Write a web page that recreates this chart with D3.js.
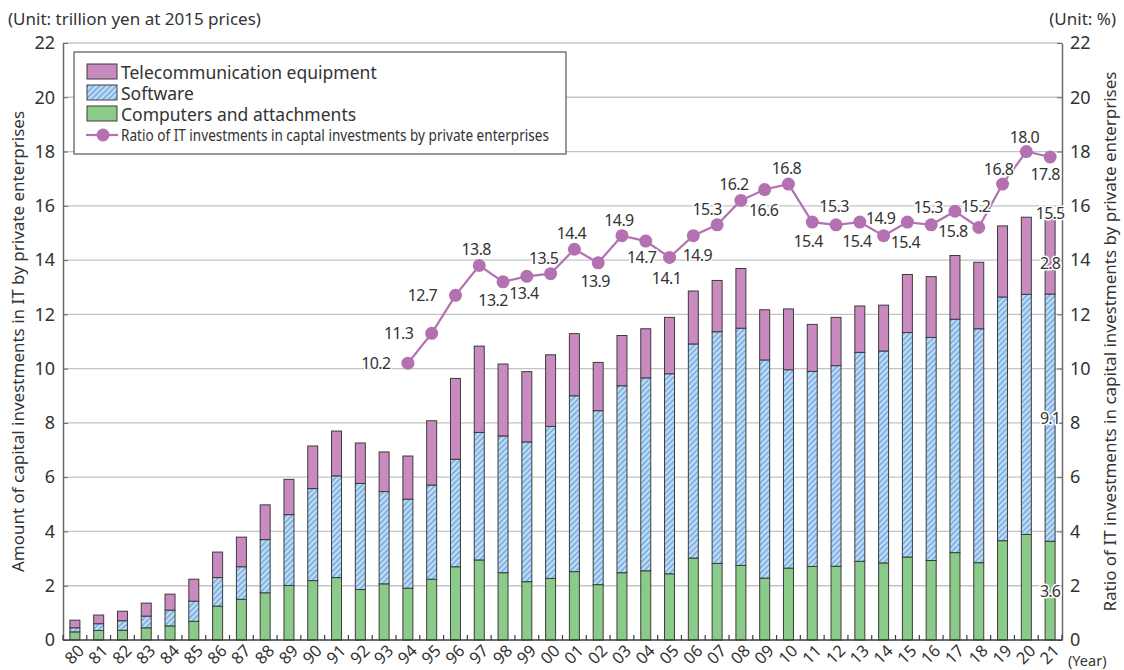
<!DOCTYPE html>
<html lang="en">
<head>
<meta charset="utf-8">
<script src="https://d3js.org/d3.v7.min.js"></script>
<style>
  body { margin: 0; background: #fff; }
  text { font-family: "Noto Sans", sans-serif; fill: #333; }
</style>
</head>
<body>
<script>
// Years (fiscal, 2-digit)
var years = ["80","81","82","83","84","85","86","87","88","89","90","91","92","93","94","95","96","97","98","99",
             "00","01","02","03","04","05","06","07","08","09","10","11","12","13","14","15","16","17","18","19","20","21"];

// trillion yen at 2015 prices
var computers = [0.30,0.35,0.36,0.45,0.52,0.69,1.25,1.50,1.74,2.01,2.19,2.30,1.86,2.07,1.91,2.24,2.70,2.95,2.48,2.15,
                 2.27,2.52,2.04,2.48,2.55,2.44,3.02,2.82,2.75,2.28,2.65,2.71,2.72,2.90,2.84,3.06,2.93,3.22,2.85,3.66,3.89,3.64];
var software  = [0.15,0.25,0.35,0.43,0.58,0.74,1.05,1.20,1.96,2.61,3.39,3.75,3.91,3.40,3.28,3.47,3.96,4.70,5.04,5.15,
                 5.60,6.48,6.41,6.89,7.11,7.37,7.89,8.54,8.74,8.04,7.31,7.19,7.39,7.70,7.81,8.27,8.22,8.60,8.62,8.98,8.85,9.11];
var telecom   = [0.28,0.32,0.35,0.48,0.59,0.81,0.94,1.09,1.28,1.30,1.57,1.65,1.49,1.46,1.59,2.37,2.98,3.18,2.65,2.59,
                 2.64,2.29,1.78,1.85,1.81,2.08,1.95,1.89,2.20,1.85,2.24,1.73,1.78,1.71,1.69,2.14,2.24,2.35,2.45,2.62,2.84,2.75];

// ratio of IT investments (%), from 94
var ratioYears = ["94","95","96","97","98","99","00","01","02","03","04","05","06","07","08","09","10","11","12","13","14","15","16","17","18","19","20","21"];
var ratio = [10.2,11.3,12.7,13.8,13.2,13.4,13.5,14.4,13.9,14.9,14.7,14.1,14.9,15.3,16.2,16.6,16.8,15.4,15.3,15.4,14.9,15.4,15.3,15.8,15.2,16.8,18.0,17.8];

var yTicks = [0,2,4,6,8,10,12,14,16,18,20,22];

// label offsets for the ratio line (styling only)
var ratioLabelOffset = [[-32,0],[-33,0],[-33,0],[-3,-17],[-10,18],[-3,17],[-7,-16],[-3,-16],[-3,18],[-3,-16],
                        [-4,16],[-3,21],[4,19],[-10,-16],[-7,-16],[-1,20],[-2,-16],[-4,19],[-2,-19],[-3,19],
                        [-3,-18],[-2,20],[-3,-18],[-2,20],[-3,-22],[-4,-15],[-2,-15],[-5,17]];

var w = 1124, h = 670;
var padL = 63, padR = 1062, padT = 43, padB = 640;

var svg = d3.select("body").append("svg").attr("width", w).attr("height", h);

var defs = svg.append("defs");
var pat = defs.append("pattern")
  .attr("id", "hatch").attr("patternUnits", "userSpaceOnUse")
  .attr("width", 4).attr("height", 4)
  .attr("patternTransform", "rotate(45)");
pat.append("rect").attr("width", 4).attr("height", 4).attr("fill", "#7fb4e6");
pat.append("line").attr("x1", 1).attr("y1", 0).attr("x2", 1).attr("y2", 4)
  .attr("stroke", "#fff").attr("stroke-width", 1.1);

var xScale = d3.scaleBand().domain(years).range([padL, padR]).paddingInner(0.58).paddingOuter(0.29);
var yScale = d3.scaleLinear().domain([0, 22]).range([padB, padT]);

// gridlines
svg.append("g").selectAll("line").data(yTicks.filter(function(d){ return d > 0; })).enter()
  .append("line")
  .attr("x1", padL).attr("x2", padR)
  .attr("y1", function(d){ return yScale(d); }).attr("y2", function(d){ return yScale(d); })
  .attr("stroke", "#c4c4c4").attr("stroke-width", 1.3);

// stacked bars
var rows = years.map(function(y, i){ return {year: y, computers: computers[i], software: software[i], telecom: telecom[i]}; });
var keys = ["computers", "software", "telecom"];
var fills = {computers: "#8acb8a", software: "url(#hatch)", telecom: "#c98bbf"};
var stacked = d3.stack().keys(keys)(rows);

svg.append("g").selectAll("g").data(stacked).enter()
  .append("g").attr("fill", function(d){ return fills[d.key]; })
  .selectAll("rect").data(function(d){ return d; }).enter()
  .append("rect")
  .attr("x", function(d){ return xScale(d.data.year); })
  .attr("width", xScale.bandwidth())
  .attr("y", function(d){ return yScale(d[1]); })
  .attr("height", function(d){ return yScale(d[0]) - yScale(d[1]); })
  .attr("stroke", "#3c3c3c").attr("stroke-width", 1);

// axes
var yAxisL = d3.axisLeft(yScale).tickValues(yTicks).tickSize(0).tickPadding(8);
var yAxisR = d3.axisRight(yScale).tickValues(yTicks).tickSize(0).tickPadding(8);

var gl = svg.append("g").attr("transform", "translate(" + padL + ",0)").call(yAxisL);
var gr = svg.append("g").attr("transform", "translate(" + padR + ",0)").call(yAxisR);
[gl, gr].forEach(function(g){
  g.select(".domain").attr("stroke", "#6a6a6a").attr("stroke-width", 1.5);
  g.selectAll("text").style("font-size", "18px").attr("fill", "#333");
});
gl.selectAll(".tick").append("line").attr("x2", 5).attr("stroke", "#6a6a6a");
gr.selectAll(".tick").append("line").attr("x2", -5).attr("stroke", "#6a6a6a");

// x axis
var step = xScale.step();
var boundaries = years.map(function(y){ return xScale(y) - (step - xScale.bandwidth()) / 2; });
boundaries.push(padR);
svg.append("line").attr("x1", padL).attr("x2", padR).attr("y1", padB).attr("y2", padB)
  .attr("stroke", "#3c3c3c").attr("stroke-width", 1.5);
svg.append("g").selectAll("line").data(boundaries).enter().append("line")
  .attr("x1", function(d){ return d; }).attr("x2", function(d){ return d; })
  .attr("y1", padB).attr("y2", padB - 5)
  .attr("stroke", "#3c3c3c").attr("stroke-width", 1.2);

svg.append("g").selectAll("text").data(years).enter().append("text")
  .attr("transform", function(d){ return "translate(" + (xScale(d) + xScale.bandwidth() / 2 - 1) + "," + 654 + ") rotate(-45)"; })
  .attr("text-anchor", "middle").attr("dominant-baseline", "central")
  .style("font-size", "16.5px").text(function(d){ return d; });

svg.append("text").attr("x", 1068).attr("y", 666).style("font-size", "14.5px").text("(Year)");

// unit labels and axis titles
svg.append("text").attr("x", 8).attr("y", 25).style("font-size", "17px").text("(Unit: trillion yen at 2015 prices)");
svg.append("text").attr("x", 1116).attr("y", 25).attr("text-anchor", "end").style("font-size", "17px").text("(Unit: %)");

svg.append("text").attr("transform", "translate(24," + ((padT + padB) / 2) + ") rotate(-90)")
  .attr("text-anchor", "middle").style("font-size", "17px")
  .text("Amount of capital investments in IT by private enterprises");
svg.append("text").attr("transform", "translate(1116," + ((padT + padB) / 2) + ") rotate(-90)")
  .attr("text-anchor", "middle").style("font-size", "17px")
  .text("Ratio of IT investments in capital investments by private enterprises");

// ratio line
var lineColor = "#b471b2";
var cx = function(y){ return xScale(y) + xScale.bandwidth() / 2; };
var line = d3.line()
  .x(function(d, i){ return cx(ratioYears[i]); })
  .y(function(d){ return yScale(d); });
svg.append("path").datum(ratio).attr("d", line)
  .attr("fill", "none").attr("stroke", lineColor).attr("stroke-width", 2.2);
svg.append("g").selectAll("circle").data(ratio).enter().append("circle")
  .attr("cx", function(d, i){ return cx(ratioYears[i]); })
  .attr("cy", function(d){ return yScale(d); })
  .attr("r", 6.5).attr("fill", lineColor);

svg.append("g").selectAll("text").data(ratio).enter().append("text")
  .attr("x", function(d, i){ return cx(ratioYears[i]) + ratioLabelOffset[i][0]; })
  .attr("y", function(d, i){ return yScale(d) + ratioLabelOffset[i][1]; })
  .attr("text-anchor", "middle").attr("dominant-baseline", "central")
  .style("font-size", "16px").style("letter-spacing", "-0.6px")
  .attr("stroke", "#fff").attr("stroke-width", 3).attr("paint-order", "stroke")
  .text(function(d){ return d.toFixed(1); });

// value labels on last bar
var last = rows[rows.length - 1];
var lx = cx(last.year);
var lastLabels = [
  {v: last.computers, y: (0 + last.computers) / 2},
  {v: last.software, y: last.computers + last.software / 2},
  {v: last.telecom, y: last.computers + last.software + last.telecom / 2 - 0.25},
  {v: last.computers + last.software + last.telecom, y: last.computers + last.software + last.telecom + 0.22}
];
svg.append("g").selectAll("text").data(lastLabels).enter().append("text")
  .attr("x", lx).attr("y", function(d){ return yScale(d.y); })
  .attr("text-anchor", "middle").attr("dominant-baseline", "central")
  .style("font-size", "16px").style("letter-spacing", "-0.8px")
  .attr("stroke", "#fff").attr("stroke-width", 3).attr("paint-order", "stroke")
  .text(function(d){ return d.v.toFixed(1); });

// legend
var lg = svg.append("g");
lg.append("rect").attr("x", 74).attr("y", 52).attr("width", 492).attr("height", 102)
  .attr("fill", "#fff").attr("stroke", "#555").attr("stroke-width", 1.2);
var legendItems = [
  {label: "Telecommunication equipment", fill: fills.telecom},
  {label: "Software", fill: fills.software},
  {label: "Computers and attachments", fill: fills.computers}
];
legendItems.forEach(function(d, i){
  var yy = 64 + i * 21;
  lg.append("rect").attr("x", 87).attr("y", yy).attr("width", 30).attr("height", 15)
    .attr("fill", d.fill).attr("stroke", "#3c3c3c").attr("stroke-width", 1);
  lg.append("text").attr("x", 121).attr("y", yy + 7.5).attr("dominant-baseline", "central")
    .style("font-size", "17.5px").text(d.label);
});
lg.append("line").attr("x1", 86).attr("x2", 118).attr("y1", 135).attr("y2", 135)
  .attr("stroke", lineColor).attr("stroke-width", 2.2);
lg.append("circle").attr("cx", 103).attr("cy", 135).attr("r", 6.5).attr("fill", lineColor);
lg.append("text").attr("x", 121).attr("y", 135).attr("dominant-baseline", "central")
  .style("font-size", "16px").attr("textLength", 428).attr("lengthAdjust", "spacingAndGlyphs")
  .text("Ratio of IT investments in captal investments by private enterprises");
</script>
</body>
</html>
